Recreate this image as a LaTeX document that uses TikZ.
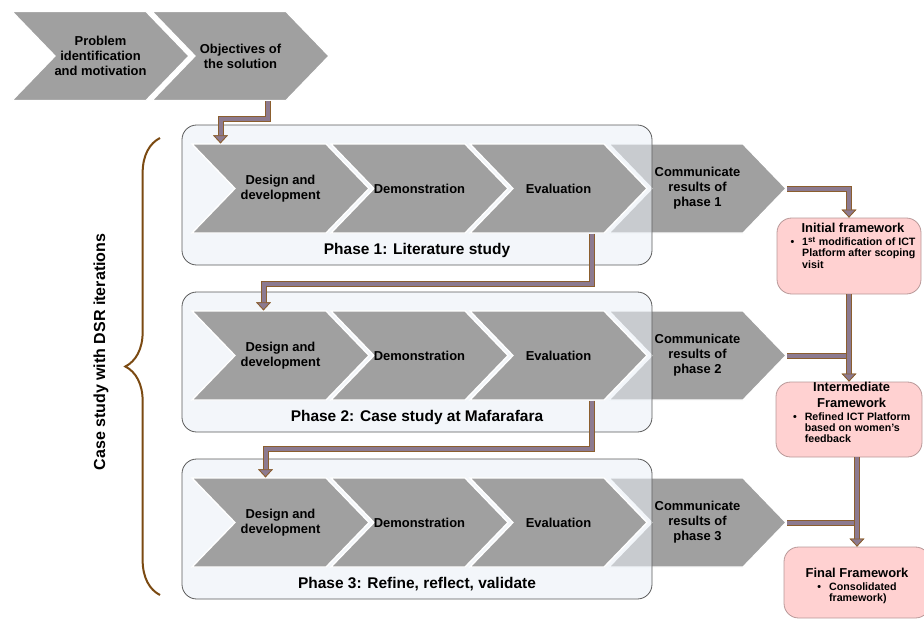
\documentclass[tikz,border=0pt]{standalone}
\usepackage{fontspec}
\setmainfont{Liberation Sans}
\usetikzlibrary{shapes.symbols,arrows.meta,positioning,calc,decorations.pathreplacing}
\definecolor{chevgray}{HTML}{A0A0A0}
\definecolor{phasefill}{RGB}{233,239,246}
\definecolor{phaseline}{HTML}{5A5A5A}
\definecolor{fwpink}{HTML}{FFD1D1}
\definecolor{fwline}{HTML}{B89898}
\definecolor{flowfill}{HTML}{8C7A90}
\definecolor{flowedge}{HTML}{8B5E2E}
\definecolor{bracebrown}{HTML}{7B4A12}
\newcommand\fwtitle{\fontsize{9.7}{12}\selectfont\bfseries}

\begin{document}
\begin{tikzpicture}
  [x=0.75pt,y=-0.75pt,
   chev/.style={signal,signal from=west,signal to=east,signal pointer angle=92,
     fill=chevgray,draw=white,line width=1pt,minimum width=132.75pt,minimum height=66.75pt,
     inner xsep=-12pt,inner ysep=0pt,align=center,font=\fontsize{9.7}{11.25}\selectfont\bfseries},
   phase/.style={rectangle,rounded corners=11pt,draw=phaseline,line width=.6pt,
     fill=phasefill,fill opacity=.55,minimum width=352.5pt,minimum height=105pt},
   phaselabel/.style={inner sep=0pt,font=\fontsize{11.6}{13}\selectfont\bfseries},
   fwbox/.style={rectangle,rounded corners=11pt,draw=fwline,line width=.6pt,fill=fwpink},
   fwtext/.style={inner sep=0pt,align=center,font=\fontsize{8}{8.4}\selectfont\bfseries},
   flowline/.style={draw=flowfill,line width=3pt,line join=miter,
     preaction={draw=flowedge,line width=4.5pt}},
   flow/.style={flowline,-{Triangle[length=6pt,width=11pt,fill=flowfill,color=flowedge,line width=.6pt]}}]
  \useasboundingbox (0,0) rectangle (924,618);

  \node[chev] (prob) at (100.5,56) {Problem\\identification\\and motivation};
  \node[chev] (obj) at (240.5,56) {Objectives of\\the solution};

  \foreach \r/\yb/\ttl in {1/125/{Phase 1: Literature study},
      2/292/{Phase 2: Case study at Mafarafara},
      3/459/{Phase 3: Refine, reflect, validate}} {
    \node[chev] (com\r) at (697.5,\yb+63.5) {Communicate\\results of\\phase \r};
    \node[phase] (box\r) at (417,\yb+70) {};
    \node[chev] (des\r) at (280.5,\yb+63.5) {Design and\\development};
    \node[chev] (dem\r) at (419.5,\yb+63.5) {Demonstration};
    \node[chev] (eva\r) at (558.5,\yb+63.5) {Evaluation};
    \node[phaselabel] (lab\r) at (417,\yb+125) {\ttl};
  }

  \node[fwbox,minimum width=108pt,minimum height=57pt] (fw1) at (849,256) {};
  \node[fwbox,minimum width=109.5pt,minimum height=56.25pt] (fw2) at (849,419.5) {};
  \node[fwbox,minimum width=109.5pt,minimum height=53.25pt] (fw3) at (857,582.5) {};

  \node[fwtext,below=4pt of fw1.north,xshift=3pt] (fw1t) {{\fwtitle Initial framework}\\[1.5pt]
    \begin{tabular}[t]{@{}l@{\hspace{6pt}}l@{}}\textbullet&1\textsuperscript{st} modification of ICT\\
      &Platform after scoping\\&visit\end{tabular}};
  \node[fwtext,below=0pt of fw2.north,xshift=2pt] (fw2t) {{\fwtitle Intermediate}\\[3.6pt]{\fwtitle Framework}\\[1.5pt]
    \begin{tabular}[t]{@{}l@{\hspace{6pt}}l@{}}\textbullet&Refined ICT Platform\\
      &based on women’s\\&feedback\end{tabular}};
  \node[fwtext,below=16pt of fw3.north] (fw3t) {{\fwtitle Final Framework}\\[1.5pt]
    \begin{tabular}[t]{@{}l@{\hspace{6pt}}l@{}}\textbullet&Consolidated\\&framework)\end{tabular}};

  \draw[bracebrown,line width=1.5pt,decorate,decoration={brace,amplitude=26pt}]
    (160,595) -- (160,138);
  \node[rotate=90,inner sep=0pt,font=\fontsize{12}{14}\selectfont\bfseries] (dsr) at (101,352)
    {Case study with DSR iterations};

  % connectors
  \draw[flow] ($(obj.south)+(27,0)$) -- ++(0,18) -| ($(des1.north)+(-60,0)$);
  \draw[flow] ($(eva1.south)+(33,0)$) -- ++(0,50) -| ($(des2.north)+(-17,0)$);
  \draw[flow] ($(eva2.south)+(33,0)$) -- ++(0,48) -| ($(des3.north)+(-15,0)$);
  \draw[flow] (com1.east) -| (fw1.north);
  \draw[flowline] (com2.east) -- (com2.east -| fw2.north);
  \draw[flow] (fw1.south) -- (fw2.north);
  \draw[flowline] (com3.east) -- (com3.east -| fw3.north);
  \draw[flow] (fw2.south -| fw3.north) -- (fw3.north);
\end{tikzpicture}
\end{document}
